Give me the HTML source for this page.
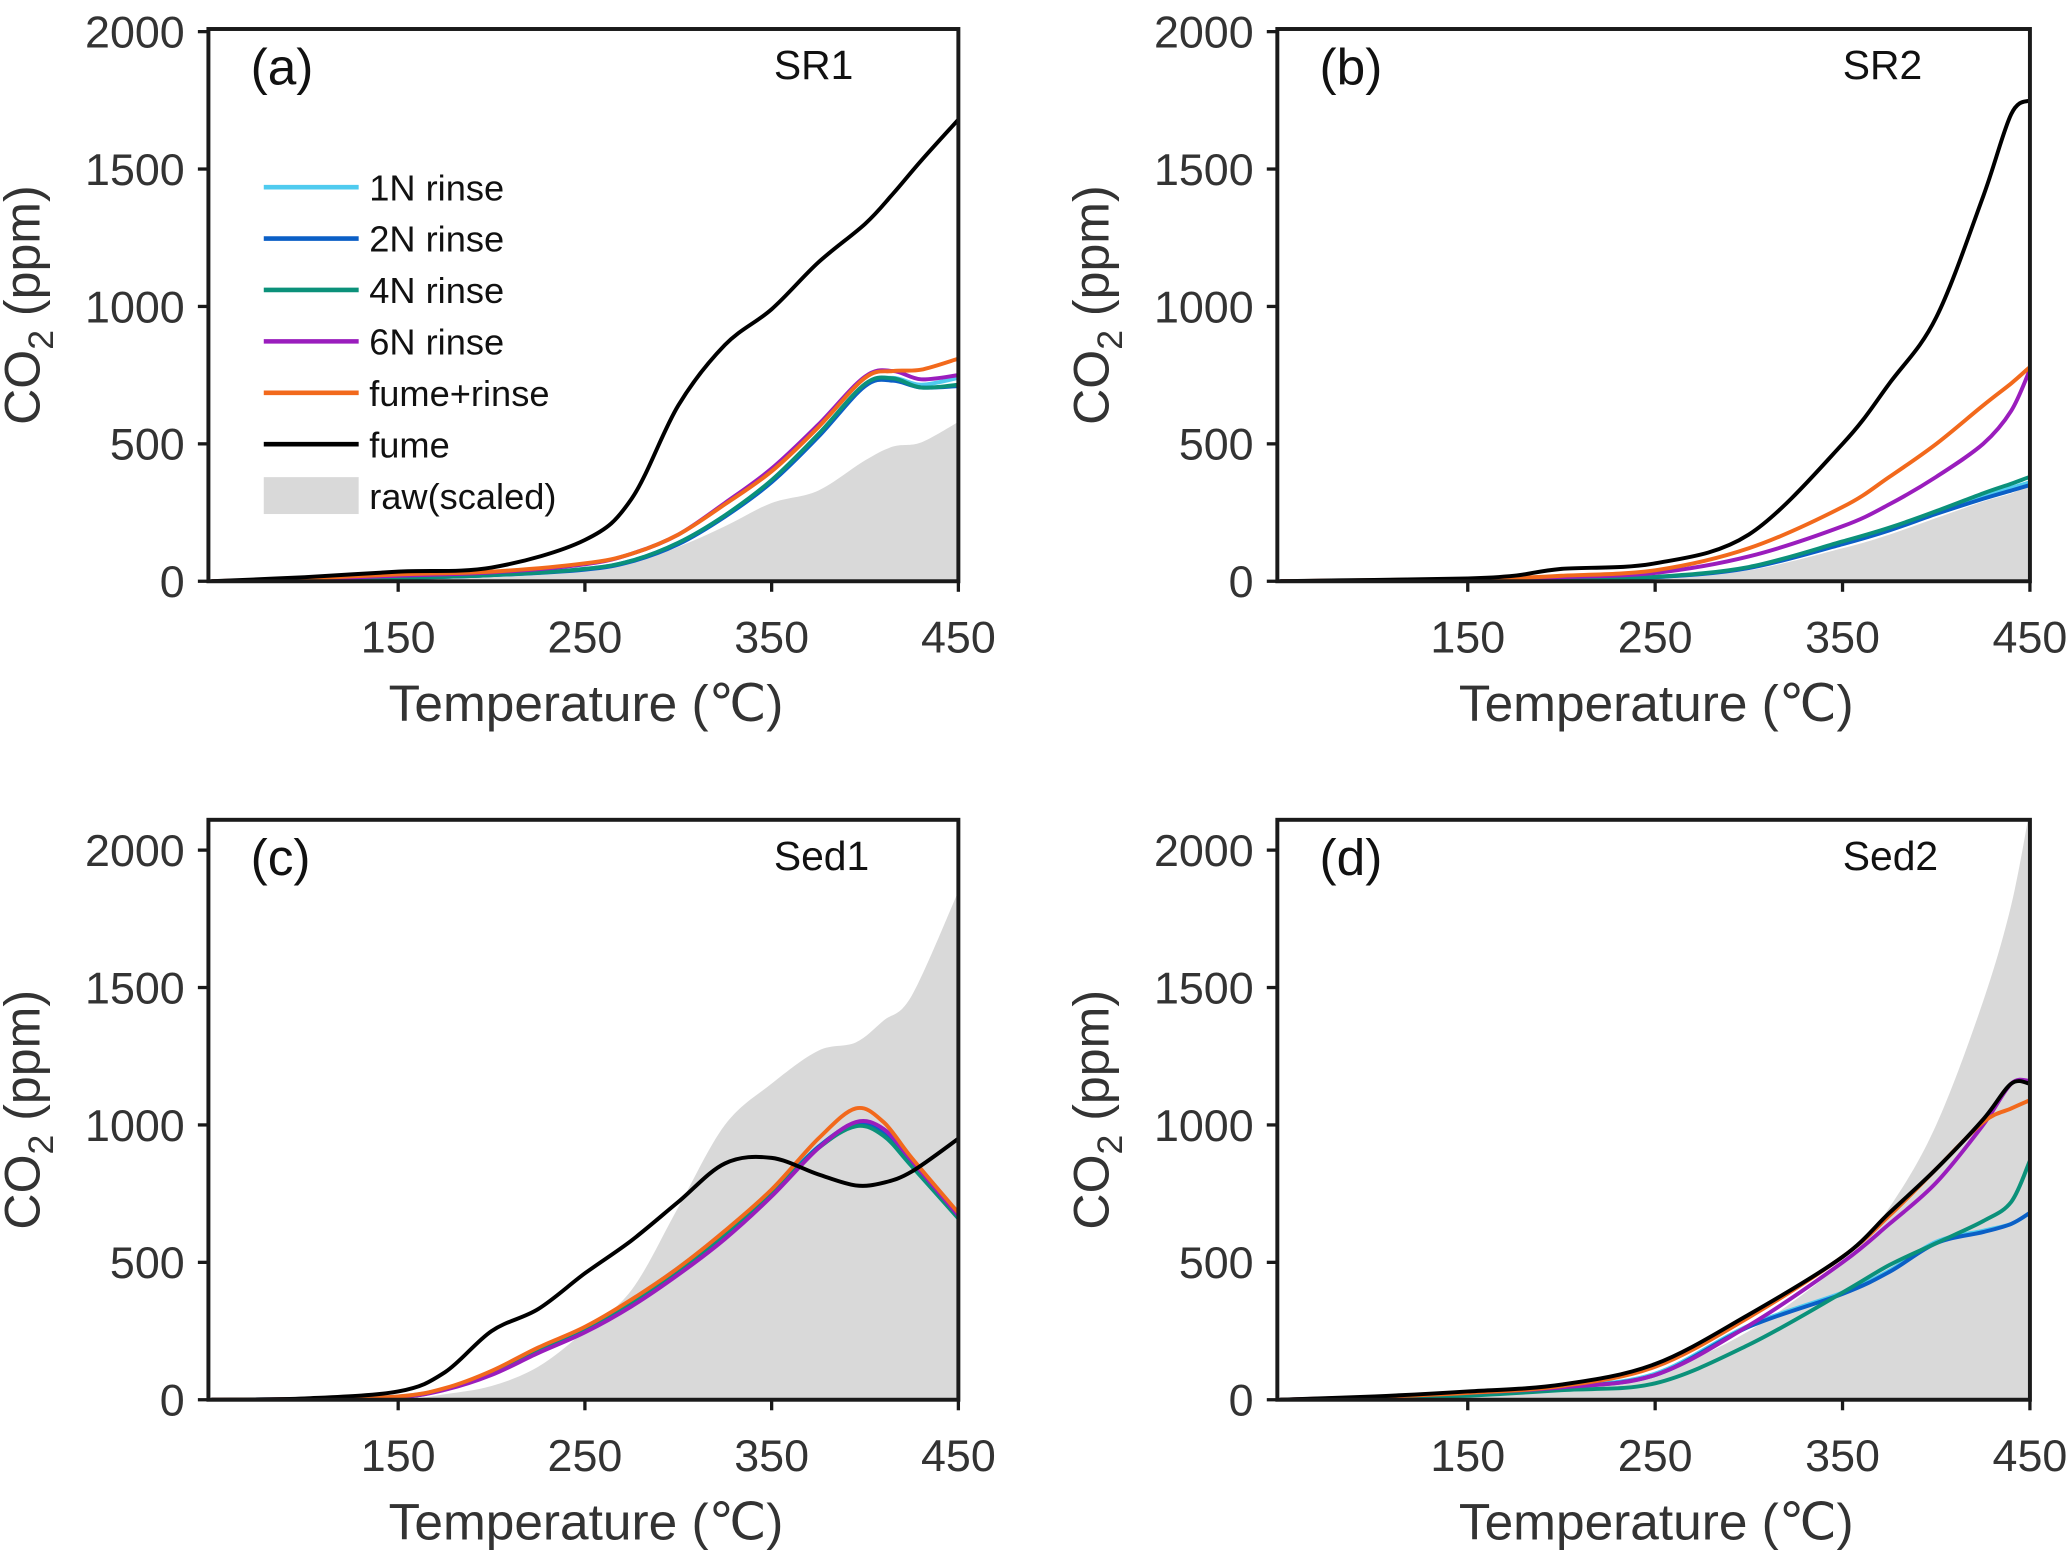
<!DOCTYPE html>
<html><head><meta charset="utf-8"><style>
html,body{margin:0;padding:0;background:#fff}
svg{display:block}
text{font-family:"Liberation Sans",Arial,sans-serif}
</style></head><body>
<svg id="fig" width="2067" height="1550" viewBox="0 0 1568 1176" xmlns="http://www.w3.org/2000/svg"></svg>
<script>
const xTicks=[150,250,350,450];
const yTicks=[0,500,1000,1500,2000];
const seriesNames=["1N rinse","2N rinse","4N rinse","6N rinse","fume+rinse","fume"];
const seriesColors=["#4fcbef","#0b5fc6","#0b917a","#9a1dbd","#f2691c","#000000"];
// Panel a (SR1)
const aX=[50,100,150,200,250,275,300,325,350,375,400,415,430,450];
const aRaw=[0,3,8,15,38,70,125,200,285,330,440,490,505,580];
const a1N=[0,5,12,22,45,75,140,240,365,530,715,740,715,740];
const a2N=[0,5,12,22,42,72,135,235,360,525,710,730,705,710];
const a4N=[0,5,12,22,45,75,140,240,368,535,718,738,705,715];
const a6N=[0,8,20,32,62,100,170,285,410,570,745,765,735,750];
const aFR=[0,10,25,35,65,100,170,280,400,560,740,765,770,810];
const aF=[0,15,35,50,150,300,640,860,990,1160,1300,1410,1530,1680];
// Panel b (SR2)
const bX=[50,100,150,175,200,250,300,350,375,400,425,440,450];
const bRaw=[0,2,5,8,10,15,40,120,170,230,290,320,350];
const b1N=[0,2,5,8,10,15,50,140,190,250,310,340,360];
const b2N=[0,2,5,8,10,15,48,135,185,245,300,330,350];
const b4N=[0,2,5,8,10,16,52,145,195,255,320,355,380];
const b6N=[0,3,6,10,15,30,90,200,280,380,500,620,770];
const bFR=[0,4,8,12,20,40,120,270,380,500,640,720,780];
const bF=[0,5,10,20,45,65,170,500,720,960,1400,1700,1750];
// Panel c (Sed1)
const cX=[50,100,150,175,200,225,250,275,300,325,350,375,395,410,425,450];
const cRaw=[0,0,0,20,50,120,250,400,700,1000,1150,1270,1300,1380,1470,1850];
const c1N=[0,3,12,40,100,180,255,360,480,610,760,920,1000,960,850,660];
const c2N=[0,3,10,38,95,175,250,350,470,600,750,920,1005,970,860,665];
const c4N=[0,3,10,38,95,175,250,350,470,600,750,915,995,960,850,660];
const c6N=[0,3,10,36,90,170,245,340,455,585,740,915,1010,985,870,670];
const cFR=[0,3,12,42,105,190,265,365,480,615,765,950,1060,1010,880,680];
const cF=[0,5,30,100,250,330,460,580,720,860,880,820,780,790,830,950];
// Panel d (Sed2)
const dX=[50,100,150,200,250,300,350,375,400,425,440,450];
const dRaw=[0,5,15,40,100,250,500,700,1000,1450,1800,2150];
const d1N=[0,8,20,45,95,270,390,470,575,615,640,680];
const d2N=[0,8,20,45,90,265,385,465,570,610,640,680];
const d4N=[0,6,15,35,60,200,390,490,570,650,720,870];
const d6N=[0,10,25,45,90,270,500,640,790,1000,1150,1160];
const dFR=[0,10,25,50,120,300,520,670,840,1010,1060,1090];
const dF=[0,12,30,55,130,310,520,680,840,1020,1150,1150];

const panels=[
 {id:"a",tag:"(a)",name:"SR1",L:158,R:727,T:22,B:441,ymax:2010,X:aX,raw:aRaw,s:[a1N,a2N,a4N,a6N,aFR,aF],legend:true},
 {id:"b",tag:"(b)",name:"SR2",L:969,R:1540,T:22,B:441,ymax:2010,X:bX,raw:bRaw,s:[b1N,b2N,b4N,b6N,bFR,bF]},
 {id:"c",tag:"(c)",name:"Sed1",L:158,R:727,T:622,B:1062,ymax:2110,X:cX,raw:cRaw,s:[c1N,c2N,c4N,c6N,cFR,cF]},
 {id:"d",tag:"(d)",name:"Sed2",L:969,R:1540,T:622,B:1062,ymax:2110,X:dX,raw:dRaw,s:[d1N,d2N,d4N,d6N,dFR,dF]}
];
const NS="http://www.w3.org/2000/svg";
const svg=document.getElementById("fig");
function mk(tag,attrs,parent){const e=document.createElementNS(NS,tag);for(const k in attrs)e.setAttribute(k,attrs[k]);(parent||svg).appendChild(e);return e;}
function smooth(pts){let d="M"+pts[0][0]+","+pts[0][1];
 for(let i=0;i<pts.length-1;i++){const p0=pts[i-1]||pts[i],p1=pts[i],p2=pts[i+1],p3=pts[i+2]||p2;
  const c1=[p1[0]+(p2[0]-p0[0])/6,p1[1]+(p2[1]-p0[1])/6],c2=[p2[0]-(p3[0]-p1[0])/6,p2[1]-(p3[1]-p1[1])/6];
  d+=" C"+c1[0].toFixed(1)+","+c1[1].toFixed(1)+" "+c2[0].toFixed(1)+","+c2[1].toFixed(1)+" "+p2[0].toFixed(1)+","+p2[1].toFixed(1);}
 return d;}
panels.forEach(p=>{
 const g=mk("g",{});
 
 
 const xmin=150-(302-158)/141.7*100, xmax=450;
 const xs=v=>p.L+(v-xmin)/(xmax-xmin)*(p.R-p.L);
 const ys=v=>p.B-v*0.2085;
 const clip=mk("clipPath",{id:"clip"+p.id},g);
 mk("rect",{x:p.L,y:p.T,width:p.R-p.L,height:p.B-p.T},clip);
 const plot=mk("g",{"clip-path":"url(#clip"+p.id+")"},g);
 const rp=p.X.map((x,i)=>[xs(x),ys(p.raw[i])]);
 const area=mk("path",{d:smooth(rp)+" L"+xs(450)+","+p.B+" L"+xs(p.X[0])+","+p.B+" Z",fill:"#d9d9d9",stroke:"none"},plot);
 
 
 p.s.forEach((arr,si)=>{
  const pts=p.X.map((x,i)=>[xs(x),ys(arr[i])]);
  const l=mk("path",{d:smooth(pts),fill:"none",stroke:seriesColors[si],"stroke-width":3},plot);
  
  
 });
 const frame=mk("rect",{x:p.L,y:p.T,width:p.R-p.L,height:p.B-p.T,fill:"none",stroke:"#1a1a1a","stroke-width":3},g);
 
 
 xTicks.forEach(t=>{const x=xs(t);mk("line",{x1:x,x2:x,y1:p.B,y2:p.B+8,stroke:"#1a1a1a","stroke-width":2.5},g);
  const tx=mk("text",{x:x,y:p.B+54,"text-anchor":"middle","font-size":34,fill:"#333"},g);tx.textContent=t;
  
  });
 yTicks.forEach(t=>{const y=ys(t);mk("line",{x1:p.L-8,x2:p.L,y1:y,y2:y,stroke:"#1a1a1a","stroke-width":2.5},g);
  const tx=mk("text",{x:p.L-18,y:y+12,"text-anchor":"end","font-size":34,fill:"#333"},g);tx.textContent=t;
  
  });
 const xt=mk("text",{x:(p.L+p.R)/2+2,y:p.B+106,"text-anchor":"middle","font-size":39,fill:"#333"},g);
 xt.textContent="Temperature (℃)";
 
 
 const cy=(p.T+p.B)/2;
 const yt=mk("text",{x:0,y:0,"text-anchor":"middle","font-size":38,fill:"#333",transform:"translate("+(p.L-128)+","+cy+") rotate(-90)"},g);
 yt.innerHTML='CO<tspan font-size="27" dy="10">2</tspan><tspan dy="-10"> (ppm)</tspan>';
 
 
 const tg=mk("text",{x:p.L+32,y:p.T+42,"font-size":39,fill:"#111"},g);tg.textContent=p.tag;
 
 
 const nm=mk("text",{x:p.L+429,y:p.T+38,"font-size":31,fill:"#111"},g);nm.textContent=p.name;
 
 
 if(p.legend){
  const lg=mk("g",{},g);
  
  
  seriesNames.forEach((n,i)=>{const y=142+i*39;
   mk("line",{x1:200,x2:272,y1:y,y2:y,stroke:seriesColors[i],"stroke-width":3.5},lg);
   const t=mk("text",{x:280,y:y+10,"font-size":27.5,fill:"#111"},lg);t.textContent=n;
   
   });
  mk("rect",{x:200,y:362,width:72,height:28,fill:"#d9d9d9"},lg);
  const t=mk("text",{x:280,y:386,"font-size":27.5,fill:"#111"},lg);t.textContent="raw(scaled)";
  
  
 }
});
</script>
</body></html>
